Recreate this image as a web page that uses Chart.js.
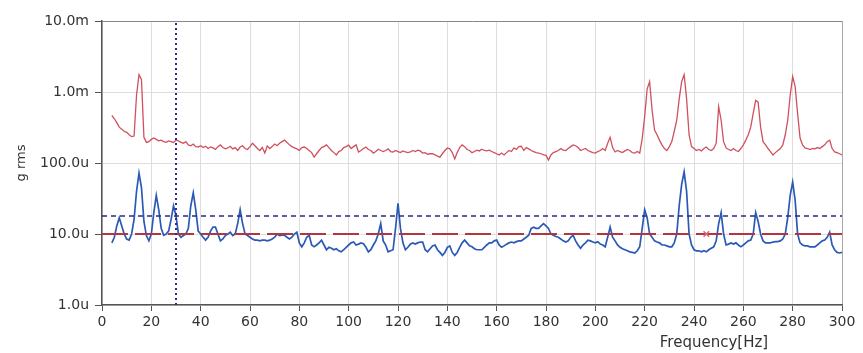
<!DOCTYPE html>
<html><head><meta charset="utf-8">
<script src="https://cdn.jsdelivr.net/npm/chart.js@4.4.0/dist/chart.umd.min.js"></script>
<style>html,body{margin:0;padding:0;background:#fff}#wrap{width:863px;height:353px;position:relative}</style>
</head><body><div id="wrap"><canvas id="c" width="863" height="353"></canvas></div>
<script>
// Spectrum sampled every 1 Hz starting at 4 Hz; values in micro g rms (u)
const freqStart = 4;
const freqStep = 1;
const redValues = [
470,420,370,320,300,280,270,250,235,240,
900,1750,1500,230,195,200,215,225,215,205,
210,200,195,205,200,195,210,205,195,190,
200,180,175,185,170,168,175,165,172,160,
168,163,155,170,180,165,158,163,172,158,
165,150,168,175,160,155,170,190,175,160,
150,165,138,174,160,170,185,175,190,200,
210,195,180,170,163,158,150,165,168,160,
150,140,121,135,150,165,170,180,165,150,
140,130,145,150,165,170,178,160,170,180,
143,150,160,168,155,150,138,145,156,150,
145,150,158,145,143,150,145,140,148,143,
140,143,150,145,152,148,138,140,133,135,
135,130,125,121,135,150,163,158,140,114,
140,165,180,170,155,150,140,145,152,148,
156,150,148,152,145,140,135,130,138,130,
140,150,145,163,155,170,172,150,165,158,
150,145,140,138,135,130,128,110,130,140,
145,150,160,152,150,160,170,180,175,165,
150,155,160,150,145,140,138,145,150,160,
150,190,230,165,143,150,145,140,148,155,
150,140,138,145,138,220,450,1100,1400,560,
290,250,210,180,160,150,170,200,280,400,
800,1400,1750,800,250,170,160,150,155,148,
160,168,155,150,160,190,620,400,200,163,
155,150,160,150,145,160,180,210,250,320,
500,760,720,320,200,180,160,145,130,140,
150,160,180,250,400,900,1650,1200,500,225,
180,163,160,155,160,158,165,160,170,180,
200,210,160,143,140,135,130
];
const blueValues = [
7.5,9,13,17,13,10,8.5,8.2,10,16,
40,72,45,15,9.5,8,10,20,35,22,
12,9.6,10,11,16,25,18,10,9,9.5,
10,12,25,38,22,11,10,9,8.2,9,
11,12.5,12.5,10,8,8.5,9.5,10,10.6,9.5,
10,14,22,14,10,9.5,9,8.5,8.2,8.2,
8,8.2,8.2,8,8.2,8.5,9,10,9.5,9.6,
9.6,9,8.5,9,10,10.6,7.5,6.6,7.5,9,
9.6,7,6.6,7,7.5,8.2,7,6,6.5,6.3,
6,6.2,5.8,5.6,6,6.5,7,7.5,7.7,7,
7.2,7.5,7.3,6.5,5.6,6,7,8,10,14,
8,7,5.6,5.8,6,12,27,12,7.5,6,
6.5,7.2,7.5,7.2,7.5,7.7,7.7,6,5.6,6.2,
6.8,7,6,5.5,5,5.5,6.5,6.8,5.5,5,
5.5,6.5,7.5,8.2,7.5,6.8,6.6,6.2,6,6,
6,6.5,7,7.5,7.5,8,8.2,7,6.5,6.8,
7.2,7.5,7.7,7.5,7.8,8,8,8.5,9,9.6,
12,12.5,12,12,13,14,13,12,10,9.6,
9.2,9,8.5,8,7.7,8,9,9.6,8,7,
6.3,7,7.5,8.2,8,7.7,7.5,7.8,7.2,7,
6.6,9,12.5,9,8,7,6.5,6.2,6,5.8,
5.6,5.5,5.4,5.8,6.6,12,22,17,10,9,
8,7.7,7.5,7,7,6.8,6.6,6.6,7.5,10,
25,50,75,40,10,7,6,5.8,5.8,5.6,
5.8,5.6,6,6.3,6.6,8,14,20,10,7,
7.2,7.5,7.2,7.5,7,6.6,7,7.5,8,8.2,
10,20,15,10,8,7.5,7.5,7.5,7.7,7.8,
7.8,8,8.5,10,17,35,54,30,10,7.5,
7,6.8,6.8,6.6,6.6,6.6,7,7.5,8,8.2,
9,10.6,7,6,5.5,5.4,5.5
];
const redLimit = 10;      // u
const blueLimit = 18;     // u
const cursorFreq = 30;    // Hz
const markerFreq = 245;   // Hz
const xTickValues = [0,20,40,60,80,100,120,140,160,180,200,220,240,260,280,300];
const yTickValues = [1,10,100,1000,10000];
const yTickLabels = ['1.0u','10.0u','100.0u','1.0m','10.0m'];
const xTitle = 'Frequency[Hz]';
const yTitle = 'g rms';

const freqs = redValues.map((_, i) => freqStart + i * freqStep);
const redPts = redValues.map((v, i) => ({x: freqs[i], y: v}));
const bluePts = blueValues.map((v, i) => ({x: freqs[i], y: v}));
const xMin = xTickValues[0], xMax = xTickValues[xTickValues.length - 1];
const yMin = yTickValues[0], yMax = yTickValues[yTickValues.length - 1];

const FONT = "'DejaVu Sans', sans-serif";

const freqTitlePlugin = {
  id: 'freqTitle',
  afterDraw(chart) {
    const ctx = chart.ctx;
    ctx.save();
    ctx.font = "15px " + FONT;
    ctx.fillStyle = '#333';
    ctx.textAlign = 'center';
    ctx.textBaseline = 'middle';
    ctx.fillText(xTitle, chart.chartArea.right - 128, 343);
    ctx.restore();
  }
};

new Chart(document.getElementById('c'), {
  type: 'line',
  data: {
    datasets: [
      {data: redPts, borderColor: '#d0505e', borderWidth: 1.3, pointRadius: 0, tension: 0, order: 6},
      {data: bluePts, borderColor: '#2a5ab5', borderWidth: 1.7, pointRadius: 0, tension: 0, order: 5},
      {data: [{x: xMin, y: blueLimit}, {x: xMax, y: blueLimit}], borderColor: '#2b2a86', borderWidth: 1.5, borderDash: [5, 4], pointRadius: 0, order: 4},
      {data: [{x: xMin, y: redLimit}, {x: xMax, y: redLimit}], borderColor: '#b3363f', borderWidth: 2, borderDash: [26, 7], pointRadius: 0, order: 3},
      {data: [{x: cursorFreq, y: yMin}, {x: cursorFreq, y: yMax}], borderColor: '#34288c', borderWidth: 2, borderDash: [2, 3], pointRadius: 0, order: 2},
      {data: [{x: markerFreq, y: redLimit}], showLine: false, pointStyle: 'crossRot', pointRadius: 4, borderColor: '#d56a7a', borderWidth: 1.5, order: 1}
    ]
  },
  options: {
    responsive: false,
    devicePixelRatio: 1,
    animation: false,
    events: [],
    layout: {padding: {top: 21, right: 21, left: 0, bottom: 0}},
    plugins: {legend: {display: false}, tooltip: {enabled: false}},
    scales: {
      x: {
        type: 'linear', min: xMin, max: xMax,
        afterBuildTicks: s => { s.ticks = xTickValues.map(v => ({value: v})); },
        afterFit: s => { s.height = 48; },
        ticks: {font: {family: FONT, size: 14}, color: '#333', padding: 3, maxRotation: 0, autoSkip: false},
        grid: {color: c => (c.tick && c.tick.value === xMax) ? '#a8a8a8' : '#dedede', tickColor: '#555', tickLength: 6, lineWidth: 1},
        border: {color: '#555', width: 1.5}
      },
      y: {
        type: 'logarithmic', min: yMin, max: yMax,
        afterBuildTicks: s => { s.ticks = yTickValues.map(v => ({value: v})); },
        afterFit: s => { s.width = 102; },
        ticks: {font: {family: FONT, size: 14}, color: '#333', padding: 6,
          callback: (v) => { const i = yTickValues.indexOf(v); return i >= 0 ? yTickLabels[i] : ''; }},
        grid: {color: c => (c.tick && c.tick.value === yMax) ? '#888' : '#dedede', tickColor: '#555', tickLength: 7, lineWidth: 1},
        border: {color: '#555', width: 1.5},
        title: {display: true, text: yTitle, font: {family: FONT, size: 13}, color: '#333', padding: {top: 14, bottom: 0}}
      }
    }
  },
  plugins: [freqTitlePlugin]
});
</script>
</body></html>
